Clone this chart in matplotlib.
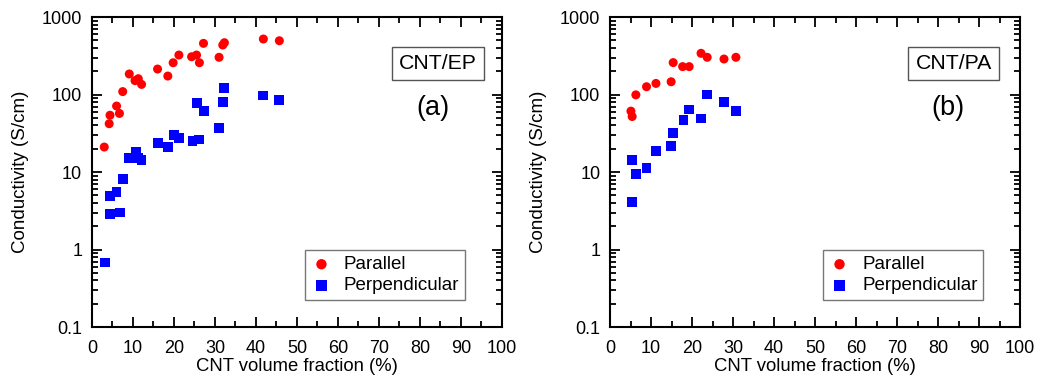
import numpy as np
import matplotlib.pyplot as plt
from matplotlib.ticker import MultipleLocator, LogLocator, FixedFormatter, FixedLocator

plt.rcParams['font.family'] = ['Liberation Sans', 'DejaVu Sans']

# (a) CNT/EP
ep_par_x = [3.0, 4.2, 4.4, 6.0, 6.7, 7.5, 9.1, 10.5, 11.3, 12.1, 16.0, 18.5, 19.8, 21.2,
            24.3, 25.5, 26.2, 27.2, 31.0, 31.9, 32.3, 41.8, 45.7]
ep_par_y = [21, 42, 54, 71, 57, 109, 184, 151, 160, 135, 213, 173, 257, 323,
            307, 323, 257, 457, 302, 435, 466, 520, 494]
ep_per_x = [3.2, 4.4, 4.4, 6.0, 6.8, 7.6, 9.1, 10.7, 11.3, 12.1, 16.2, 18.6, 20.0, 21.2,
            24.5, 26.2, 25.7, 27.3, 31.0, 31.9, 32.3, 41.8, 45.7]
ep_per_y = [0.68, 4.9, 2.87, 5.5, 3.0, 8.2, 15.3, 17.9, 15, 14.3, 23.5, 21.2, 30, 27.2,
            25.3, 26.3, 78, 61, 36.6, 80, 120, 97, 85]

# (b) CNT/PA
pa_par_x = [5.1, 5.4, 6.3, 8.9, 11.2, 14.9, 15.4, 17.7, 19.3, 22.2, 23.7, 27.8, 30.7]
pa_par_y = [61, 52, 99, 126, 139, 146, 258, 229, 229, 340, 302, 287, 302]
pa_per_x = [5.3, 5.4, 6.3, 8.9, 11.2, 14.9, 15.4, 17.9, 19.3, 22.2, 23.7, 27.8, 30.7]
pa_per_y = [14.3, 4.06, 9.5, 11.2, 18.7, 21.9, 32, 47, 64, 49, 100, 81, 62]

xticks = [0, 10, 20, 30, 40, 50, 60, 70, 80, 90, 100]
yticks = [0.1, 1, 10, 100, 1000]
ylabels = ['0.1', '1', '10', '100', '1000']

fig = plt.figure(figsize=(10.38, 3.77), dpi=100)
ax1 = fig.add_axes([0.0886, 0.1326, 0.395, 0.8223])
ax2 = fig.add_axes([0.5877, 0.1326, 0.395, 0.8223])

panels = [
    (ax1, ep_par_x, ep_par_y, ep_per_x, ep_per_y, 'CNT/EP', '(a)', 0.844, 0.832),
    (ax2, pa_par_x, pa_par_y, pa_per_x, pa_per_y, 'CNT/PA', '(b)', 0.838, 0.824),
]

for ax, px, py, qx, qy, name, tag, bx, tx in panels:
    ax.scatter(px, py, s=42, marker='o', color='#ff0000', edgecolors='none',
               label='Parallel', zorder=3)
    ax.scatter(qx, qy, s=50, marker='s', color='#0000ff', edgecolors='none',
               label='Perpendicular', zorder=3)
    ax.set_yscale('log')
    ax.set_xlim(0, 100)
    ax.set_ylim(0.1, 1000)
    ax.xaxis.set_major_locator(FixedLocator(xticks))
    ax.xaxis.set_minor_locator(MultipleLocator(5))
    ax.yaxis.set_major_locator(FixedLocator(yticks))
    ax.yaxis.set_major_formatter(FixedFormatter(ylabels))
    ax.yaxis.set_minor_locator(LogLocator(base=10, subs=np.arange(2, 10)))
    ax.tick_params(which='both', direction='in', top=True, right=True, width=1.3,
                   labelsize=13)
    ax.tick_params(axis='x', pad=9)
    ax.tick_params(axis='y', pad=7)
    ax.tick_params(which='major', length=7)
    ax.tick_params(which='minor', length=4)
    for sp in ax.spines.values():
        sp.set_linewidth(1.5)
    ax.set_xlabel('CNT volume fraction (%)', fontsize=13.3, labelpad=1)
    ax.set_ylabel('Conductivity (S/cm)', fontsize=13.5, labelpad=9)
    ax.text(bx, 0.85, name, transform=ax.transAxes, fontsize=15.3,
            ha='center', va='center',
            bbox=dict(boxstyle='square,pad=0.33', fc='white', ec='#555555', lw=1))
    ax.text(tx, 0.708, tag, transform=ax.transAxes, fontsize=19.5,
            ha='center', va='center')
    leg = ax.legend(loc='lower right', bbox_to_anchor=(0.91, 0.087), fontsize=13.5,
                    frameon=True, fancybox=False, edgecolor='#555555',
                    handletextpad=0.6, borderpad=0.3, labelspacing=0.22,
                    handlelength=1.2, borderaxespad=0, markerscale=1.15)
    leg.get_frame().set_linewidth(1)

fig.savefig('out.png', dpi=100)
